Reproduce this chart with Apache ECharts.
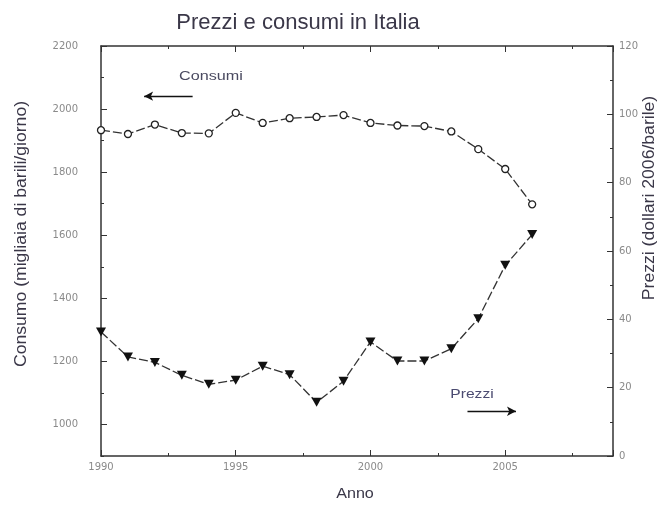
<!DOCTYPE html>
<html>
<head>
<meta charset="utf-8">
<script src="https://cdn.jsdelivr.net/npm/echarts@6/dist/echarts.min.js"></script>
<style>html,body{margin:0;padding:0;background:#fff}#c{width:669px;height:512px}</style>
</head>
<body>
<div id="c"></div>
<script>
var years = [1990,1991,1992,1993,1994,1995,1996,1997,1998,1999,2000,2001,2002,2003,2004,2005,2006];
var consumi = [1933,1921,1951,1924,1923,1988,1956,1971,1975,1981,1956,1948,1946,1929,1873,1810,1698];
var prezzi = [36.3,29.0,27.4,23.6,21.0,22.2,26.3,23.8,15.7,21.9,33.4,27.8,27.8,31.4,40.2,55.8,64.8];
var xTickLabels = [1990,1995,2000,2005];
var leftTickLabels = [1000,1200,1400,1600,1800,2000,2200];
var consumiArrow = [[1991.6,2041],[1993.4,2041]];
var prezziArrow = [[2003.6,13.1],[2005.4,13.1]];

var txt = '#3a3748';
var lab = '#8a8a8a';
var axisCol = '#333';
var font = 'Liberation Sans, Arial, sans-serif';
var tickFont = 'DejaVu Sans, sans-serif';

function pairs(xs, ys){ return xs.map(function(x,i){ return [x, ys[i]]; }); }
function plain(v){ return String(v); }

var chart = echarts.init(document.getElementById('c'), null, {renderer:'canvas'});
var lineStyleAxis = {show:true, lineStyle:{color:axisCol, width:1.5}};
var option = {
  animation:false,
  backgroundColor:'#fff',
  grid:{left:101, right:56, top:46, bottom:56, show:false},
  title:{text:'Prezzi e consumi in Italia', left:293, top:7, textAlign:'center',
    textStyle:{fontFamily:font, fontSize:22, fontWeight:'normal', color:txt}},
  xAxis:[
    {type:'value', position:'bottom', min:1990, max:2009, interval:5,
     axisLine:lineStyleAxis, splitLine:{show:false},
     axisTick:{inside:true, length:6, lineStyle:{color:axisCol}},
     axisLabel:{customValues:xTickLabels, formatter:plain, margin:6, color:lab, fontSize:10, fontFamily:tickFont}},
    {type:'value', position:'bottom', min:1990, max:2009, interval:2.5,
     axisLine:{show:false}, splitLine:{show:false},
     axisTick:{inside:true, length:3, lineStyle:{color:axisCol}}, axisLabel:{show:false}},
    {type:'value', position:'top', min:1990, max:2009, interval:5,
     axisLine:lineStyleAxis, splitLine:{show:false},
     axisTick:{inside:true, length:6, lineStyle:{color:axisCol}}, axisLabel:{show:false}},
    {type:'value', position:'top', min:1990, max:2009, interval:2.5,
     axisLine:{show:false}, splitLine:{show:false},
     axisTick:{inside:true, length:3, lineStyle:{color:axisCol}}, axisLabel:{show:false}}
  ],
  yAxis:[
    {type:'value', position:'left', min:900, max:2200, interval:100,
     axisLine:lineStyleAxis, splitLine:{show:false},
     axisTick:{inside:true, length:6, customValues:leftTickLabels, lineStyle:{color:axisCol}},
     axisLabel:{customValues:leftTickLabels, formatter:plain, margin:23, color:lab, fontSize:10, fontFamily:tickFont}},
    {type:'value', position:'left', min:900, max:2200, interval:100,
     axisLine:{show:false}, splitLine:{show:false},
     axisTick:{inside:true, length:3, lineStyle:{color:axisCol}}, axisLabel:{show:false}},
    {type:'value', position:'right', min:0, max:120, interval:20,
     axisLine:lineStyleAxis, splitLine:{show:false},
     axisTick:{inside:true, length:6, lineStyle:{color:axisCol}},
     minorTick:{show:true, splitNumber:2, length:3, lineStyle:{color:axisCol}},
     axisLabel:{formatter:plain, margin:6, color:lab, fontSize:10, fontFamily:tickFont}}
  ],
  series:[
    {name:'Consumi', type:'line', xAxisIndex:0, yAxisIndex:0,
     data:pairs(years, consumi), symbol:'circle', symbolSize:7,
     itemStyle:{color:'#fff', borderColor:'#222', borderWidth:1.3},
     lineStyle:{color:'#333', width:1.3, type:[9,3]},
     markLine:{silent:true, symbol:['arrow','none'], symbolSize:[7,9],
       label:{show:false}, lineStyle:{color:'#111', width:1.3, type:'solid'},
       data:[[{coord:consumiArrow[0]},{coord:consumiArrow[1]}]]}},
    {name:'Prezzi', type:'line', xAxisIndex:0, yAxisIndex:2,
     data:pairs(years, prezzi), symbol:'triangle', symbolRotate:180, symbolSize:[10,9],
     itemStyle:{color:'#111'},
     lineStyle:{color:'#333', width:1.3, type:[9,3]},
     markLine:{silent:true, symbol:['none','arrow'], symbolSize:[7,9],
       label:{show:false}, lineStyle:{color:'#111', width:1.3, type:'solid'},
       data:[[{coord:prezziArrow[0]},{coord:prezziArrow[1]}]]}}
  ],
  graphic:[
    {type:'text', x:22, y:234, rotation:Math.PI/2, scaleX:1.1,
     style:{text:'Consumo (migliaia di barili/giorno)', font:'16px '+font, fill:txt, align:'center', verticalAlign:'middle'}},
    {type:'text', x:650, y:198, rotation:Math.PI/2, scaleX:1.1,
     style:{text:'Prezzi (dollari 2006/barile)', font:'16px '+font, fill:txt, align:'center', verticalAlign:'middle'}},
    {type:'text', x:355, y:494, scaleX:1.15,
     style:{text:'Anno', font:'14px '+font, fill:txt, align:'center', verticalAlign:'middle'}},
    {type:'text', x:211, y:77, scaleX:1.35,
     style:{text:'Consumi', font:'12px '+font, fill:'#4a4a60', align:'center', verticalAlign:'middle'}},
    {type:'text', x:472, y:395, scaleX:1.3,
     style:{text:'Prezzi', font:'12px '+font, fill:'#4a4a70', align:'center', verticalAlign:'middle'}}
  ]
};
chart.setOption(option);
</script>
</body>
</html>
